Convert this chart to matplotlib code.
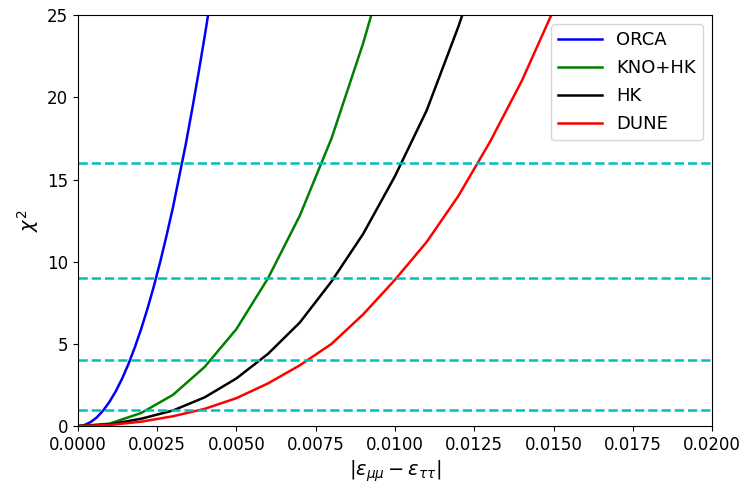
import matplotlib
matplotlib.use("Agg")
import matplotlib.pyplot as plt

orca_x = [0, 0.0002, 0.0004, 0.0006, 0.0008, 0.0010, 0.0012, 0.0014, 0.0016, 0.0018,
          0.0020, 0.0022, 0.0024, 0.0026, 0.0028, 0.0030, 0.0032, 0.0034, 0.0036,
          0.0038, 0.0040, 0.0042]
orca_y = [0, 0.06, 0.24, 0.53, 0.95, 1.48, 2.13, 2.90, 3.79, 4.80, 5.92, 7.16, 8.52,
          10.0, 11.6, 13.3, 15.2, 17.1, 19.2, 21.4, 23.7, 26.1]

kno_x = [0, 0.001, 0.002, 0.003, 0.004, 0.005, 0.006, 0.007, 0.008, 0.009, 0.010]
kno_y = [0, 0.15, 0.8, 1.9, 3.6, 5.9, 9.0, 12.8, 17.5, 23.3, 30.0]

hk_x = [0, 0.001, 0.002, 0.003, 0.004, 0.005, 0.006, 0.007, 0.008, 0.009, 0.010,
        0.011, 0.012, 0.013]
hk_y = [0, 0.1, 0.45, 0.95, 1.75, 2.9, 4.4, 6.3, 8.8, 11.7, 15.2, 19.2, 24.3, 30.0]

dune_x = [0, 0.001, 0.002, 0.003, 0.004, 0.005, 0.006, 0.007, 0.008, 0.009, 0.010,
          0.011, 0.012, 0.013, 0.014, 0.015, 0.016]
dune_y = [0, 0.07, 0.27, 0.6, 1.05, 1.7, 2.6, 3.7, 5.0, 6.8, 8.9, 11.2, 14.0, 17.3,
          21.0, 25.3, 30.0]

levels = [1, 4, 9, 16]

fig = plt.figure(figsize=(7.48, 4.87), dpi=100)
ax = fig.add_axes([0.104, 0.125, 0.848, 0.844])

ax.plot(orca_x, orca_y, color="blue", lw=1.8, label="ORCA")
ax.plot(kno_x, kno_y, color="green", lw=1.8, label="KNO+HK")
ax.plot(hk_x, hk_y, color="black", lw=1.8, label="HK")
ax.plot(dune_x, dune_y, color="red", lw=1.8, label="DUNE")
for lv in levels:
    ax.axhline(lv, color="c", ls="--", lw=1.8)

ax.set_xlim(0, 0.02)
ax.set_ylim(0, 25)
ax.set_xticks([0, 0.0025, 0.005, 0.0075, 0.01, 0.0125, 0.015, 0.0175, 0.02])
ax.set_xticklabels(["0.0000", "0.0025", "0.0050", "0.0075", "0.0100", "0.0125",
                    "0.0150", "0.0175", "0.0200"])
ax.set_yticks([0, 5, 10, 15, 20, 25])
ax.tick_params(labelsize=12)
ax.set_xlabel(r"$|\epsilon_{\mu\mu}-\epsilon_{\tau\tau}|$", fontsize=14, labelpad=3)
ax.set_ylabel(r"$\chi^2$", fontsize=14)
ax.legend(loc="upper right", fontsize=13, handlelength=2.4, labelspacing=0.55)

fig.savefig("out.png", dpi=100)
